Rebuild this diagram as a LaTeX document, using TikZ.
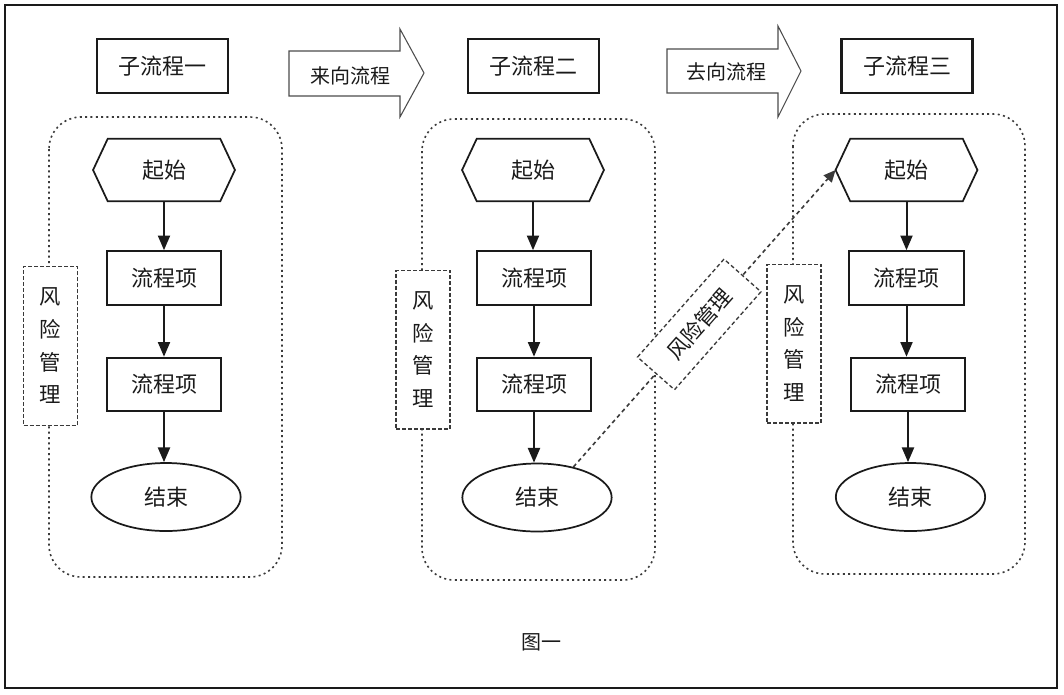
\documentclass[tikz,border=0pt]{standalone}
\usepackage{fontspec}
\setmainfont{Noto Sans CJK SC}
\usetikzlibrary{arrows.meta,shapes.geometric}
\definecolor{ink}{HTML}{1A1A1A}
\definecolor{dotc}{HTML}{3A3A3A}
\tikzset{
 lbl/.style={font=\fontsize{16.5}{19}\selectfont, text=ink},
 albl/.style={font=\fontsize{15}{18}\selectfont, text=ink},
 titlebox/.style={lbl, draw=ink, line width=1.9pt, minimum width=98pt, minimum height=40.5pt, inner sep=0pt},
 proc/.style={lbl, draw=ink, line width=1.7pt, minimum width=86pt, minimum height=40pt, inner sep=0pt},
 hexnode/.style={lbl, minimum width=106pt, minimum height=46.5pt, inner sep=0pt},
 hexline/.style={draw=ink, line width=1.3pt},
 endnode/.style={lbl, ellipse, draw=ink, line width=1.3pt, minimum width=112pt, minimum height=51pt, inner sep=0pt},
 risk/.style={text=ink, draw=dotc, fill=white, line width=1pt, dash pattern=on 3pt off 1.5pt, minimum width=40.5pt, minimum height=119pt, inner sep=0pt, align=center, font=\fontsize{16}{24.5}\selectfont},
 flow/.style={draw=ink, line width=1.5pt, -{Triangle[length=11pt,width=9pt]}},
 group/.style={draw=dotc, line width=1.2pt, dash pattern=on 1.5pt off 2.5pt, rounded corners=24pt},
 bigarrow/.style={draw=black!70, line width=0.8pt},
 diagline/.style={draw=dotc, line width=1.2pt, dash pattern=on 3pt off 2.5pt, -{Triangle[length=9pt,width=8pt]}},
 diagbox/.style={font=\fontsize{16}{19}\selectfont, text=ink, draw=dotc, fill=white, line width=1pt, dash pattern=on 3pt off 2pt, minimum width=98pt, minimum height=37pt, inner sep=0pt},
}
\begin{document}
\begin{tikzpicture}[x=0.75pt,y=-0.75pt]
\useasboundingbox (0,0) rectangle (1064,694);
% outer frame
\draw[ink, line width=1.8pt] (5,5) rectangle (1057,688);

% groups
\draw[group] (49,117) rectangle (282,577);
\draw[group] (422,119) rectangle (655,580);
\draw[group] (793,114) rectangle (1025,574);

% titles
\node[titlebox] (t1) at (162.5,66) {子流程一};
\node[titlebox] (t2) at (533.5,66) {子流程二};
\node[titlebox] (t3) at (907,66) {子流程三};

% big hollow arrows
\draw[bigarrow] (289,51) -- (400,51) -- (400,29) -- (424,73) -- (400,117) -- (400,96) -- (289,96) -- cycle;
\node[albl] (a1) at (350,76) {来向流程};
\draw[bigarrow] (667,49) -- (778,49) -- (778,26) -- (801,71) -- (778,117) -- (778,93) -- (667,93) -- cycle;
\node[albl] (a2) at (726,72) {去向流程};

% risk boxes
\node[risk] (r1) at (50.5,346) {风\\险\\管\\理};
\node[risk] (r2) at (423,349.5) {风\\险\\管\\理};
\node[risk] (r3) at (794,343.5) {风\\险\\管\\理};

% column 1
\node[hexnode] (s1) at (164,170) {起始};
\draw[hexline] (s1.west) -- ([xshift=11pt]s1.north west) -- ([xshift=-11pt]s1.north east) -- (s1.east) -- ([xshift=-11pt]s1.south east) -- ([xshift=11pt]s1.south west) -- cycle;
\node[proc] (f1a) at (164,278) {流程项};
\node[proc] (f1b) at (164,384.5) {流程项};
\node[endnode] (e1) at (166,497) {结束};
\draw[flow] (s1.south) -- (f1a.north);
\draw[flow] (f1a.south) -- (f1b.north);
\draw[flow] (f1b.south) -- (f1b.south |- e1.north);

% column 2
\node[hexnode] (s2) at (533,170) {起始};
\draw[hexline] (s2.west) -- ([xshift=11pt]s2.north west) -- ([xshift=-11pt]s2.north east) -- (s2.east) -- ([xshift=-11pt]s2.south east) -- ([xshift=11pt]s2.south west) -- cycle;
\node[proc] (f2a) at (534,278) {流程项};
\node[proc] (f2b) at (534,384.5) {流程项};
\node[endnode] (e2) at (537,497.5) {结束};
\draw[flow] (s2.south) -- (s2.south |- f2a.north);
\draw[flow] (f2a.south) -- (f2b.north);
\draw[flow] (f2b.south) -- (f2b.south |- e2.north);

% column 3
\node[hexnode] (s3) at (906.5,170) {起始};
\draw[hexline] (s3.west) -- ([xshift=11pt]s3.north west) -- ([xshift=-11pt]s3.north east) -- (s3.east) -- ([xshift=-11pt]s3.south east) -- ([xshift=11pt]s3.south west) -- cycle;
\node[proc] (f3a) at (906.5,278) {流程项};
\node[proc] (f3b) at (908,384.5) {流程项};
\node[endnode] (e3) at (910.5,497) {结束};
\draw[flow] (s3.south) -- (s3.south |- f3a.north);
\draw[flow] (f3a.south) -- (f3a.south |- f3b.north);
\draw[flow] (f3b.south) -- (f3b.south |- e3.north);

% diagonal risk management link
\draw[diagline] (e2.40) -- node[diagbox, sloped, pos=0.48] (dg) {风险管理} (s3.west);

% caption
\node[albl] (cap) at (541,642) {图一};
\end{tikzpicture}
\end{document}
